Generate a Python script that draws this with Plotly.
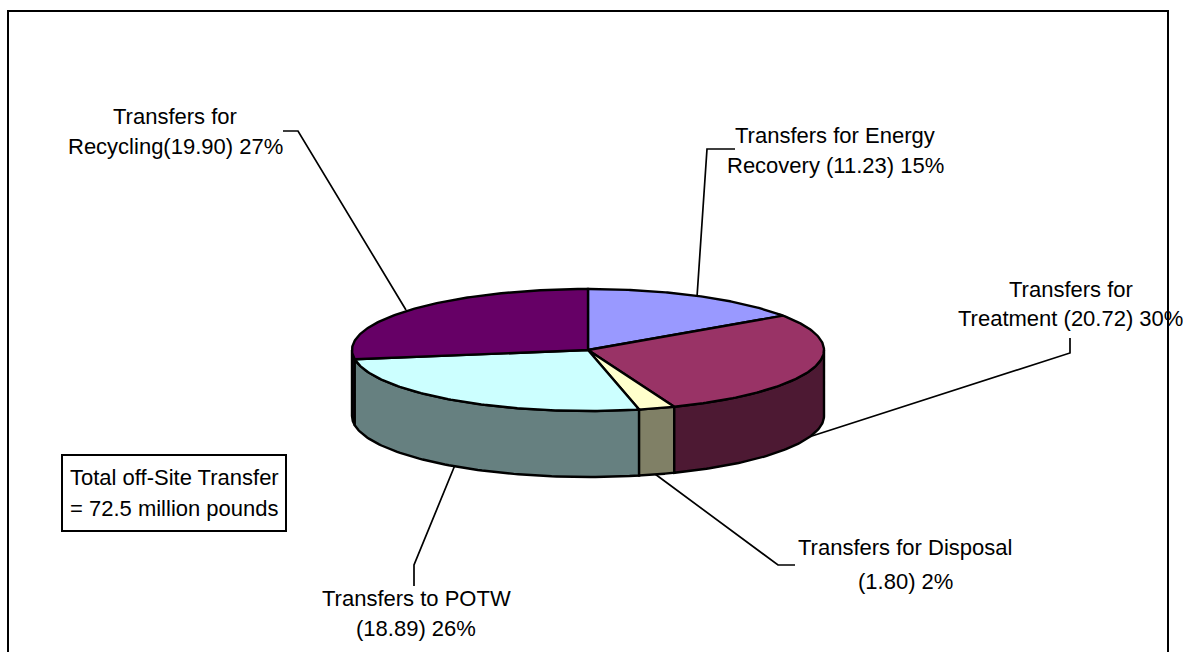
import numpy as np
import plotly.graph_objects as go

# --- data (clockwise from 12 o'clock) ---
names = ["Transfers for Energy Recovery", "Transfers for Treatment", "Transfers for Disposal",
         "Transfers to POTW", "Transfers for Recycling"]
values = [11.23, 20.72, 1.80, 18.89, 19.90]
printed_percent = [15, 30, 2, 26, 27]
top_colors = ["#9999FF", "#993366", "#FFFFCC", "#CCFFFF", "#660066"]
side_colors = ["#4D4D80", "#4D1933", "#808066", "#668080", "#330033"]

# --- geometry of the drawing (page pixels) ---
CX, CY, RX, RY, DEPTH = 588, 350, 236, 61, 66
FONT = "Liberation Sans, Arial, sans-serif"
FS = 22

label_lines = [
    ("Transfers for", 175, 116),
    (f"Recycling({values[4]:.2f}) {printed_percent[4]}%", 175, 146),
    ("Transfers for Energy", 835, 135),
    (f"Recovery ({values[0]:.2f}) {printed_percent[0]}%", 835, 165),
    ("Transfers for", 1071, 289),
    (f"Treatment ({values[1]:.2f}) {printed_percent[1]}%", 1070, 318),
    ("Transfers for Disposal", 905, 547),
    (f"({values[2]:.2f}) {printed_percent[2]}%", 905, 581),
    ("Transfers to POTW", 416, 598),
    (f"({values[3]:.2f}) {printed_percent[3]}%", 416, 628),
    ("Total off-Site Transfer", 174, 477),
    ("= 72.5 million pounds", 174, 508),
]
leaders = [
    [(283, 131), (298, 131), (406, 310)],
    [(735, 149), (707, 149), (697, 297)],
    [(1070, 338), (1070, 353), (812, 436)],
    [(655, 474), (778, 565), (795, 565)],
    [(455, 465), (414, 565), (414, 586)],
]


def pt(deg, dy=0.0):
    t = np.radians(deg)
    return CX + RX * np.sin(t), CY - RY * np.cos(t) + dy


fractions = np.array(values) / sum(values)
edges = np.concatenate([[0], np.cumsum(fractions)]) * 360

fig = go.Figure()


def add_poly(x, y, color):
    fig.add_trace(go.Scatter(x=list(x), y=list(y), mode="lines", fill="toself", fillcolor=color,
                             line=dict(color="black", width=2.4), hoverinfo="skip", showlegend=False))


# side walls: only the part of the rim facing the viewer (90..270 degrees)
for i in [4, 3, 2, 1, 0]:
    a, b = max(edges[i], 90), min(edges[i + 1], 270)
    if b <= a:
        continue
    th = np.linspace(a, b, 80)
    xt, yt = pt(th)
    xb, yb = pt(th, DEPTH)
    add_poly(np.r_[xt, xb[::-1], xt[0]], np.r_[yt, yb[::-1], yt[0]], side_colors[i])

# top faces
for i in range(5):
    th = np.linspace(edges[i], edges[i + 1], 120)
    xt, yt = pt(th)
    add_poly(np.r_[CX, xt, CX], np.r_[CY, yt, CY], top_colors[i])

shapes = [dict(type="rect", x0=8, y0=11, x1=1168, y1=680, line=dict(color="black", width=2),
               layer="below")]
shapes.append(dict(type="rect", x0=62, y0=455, x1=286, y1=531, line=dict(color="black", width=2),
                   layer="below"))
for pts in leaders:
    path = "M " + " L ".join(f"{x},{y}" for x, y in pts)
    shapes.append(dict(type="path", path=path, line=dict(color="black", width=1.7), layer="below"))

annotations = [dict(x=x, y=y, text=t, showarrow=False, xanchor="center", yanchor="middle",
                    font=dict(family=FONT, size=FS, color="black")) for t, x, y in label_lines]

fig.update_layout(
    width=1183, height=652, margin=dict(l=0, r=0, t=0, b=0), autosize=False,
    paper_bgcolor="white", plot_bgcolor="white", showlegend=False, hovermode=False,
    xaxis=dict(range=[0, 1183], visible=False, fixedrange=True),
    yaxis=dict(range=[652, 0], visible=False, fixedrange=True),
    shapes=shapes, annotations=annotations,
)
fig.write_html("out.html", config=dict(displayModeBar=False),
               post_script="document.body.style.margin='0';document.body.style.overflow='hidden';")
